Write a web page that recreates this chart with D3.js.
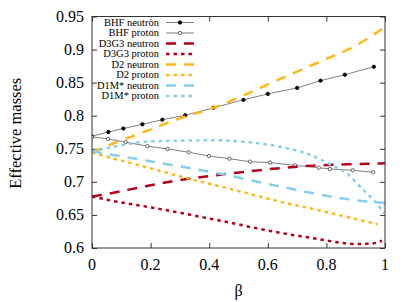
<!DOCTYPE html>
<html>
<head>
<meta charset="utf-8">
<script src="https://cdn.jsdelivr.net/npm/d3@7"></script>
<style>
  body { margin: 0; background: #fff; }
  svg { display: block; }
  text { font-family: "Liberation Serif", "DejaVu Serif", "Times New Roman", serif; }
</style>
</head>
<body>
<svg id="chart" width="415" height="302"></svg>
<script>
// values
var xTicks = [0, 0.2, 0.4, 0.6, 0.8, 1];
var yTicks = [0.6, 0.65, 0.7, 0.75, 0.8, 0.85, 0.9, 0.95];

var bhfNeutronBeta = [0, 0.056, 0.107, 0.172, 0.24, 0.318, 0.415, 0.517, 0.6, 0.70, 0.78, 0.863, 0.962];
var bhfNeutronMass = [0.769, 0.7754, 0.7807, 0.787, 0.794, 0.8006, 0.812, 0.824, 0.833, 0.842, 0.853, 0.862, 0.874];

var bhfProtonBeta = [0, 0.055, 0.115, 0.189, 0.258, 0.33, 0.399, 0.469, 0.539, 0.608, 0.693, 0.774, 0.812, 0.89, 0.96];
var bhfProtonMass = [0.768, 0.765, 0.760, 0.754, 0.7497, 0.7447, 0.739, 0.735, 0.7305, 0.729, 0.725, 0.7214, 0.7195, 0.7175, 0.7145];

var d3g3NeutronBeta = [0, 0.073, 0.187, 0.3, 0.46, 0.6, 0.754, 0.87, 1];
var d3g3NeutronMass = [0.6776, 0.6836, 0.6937, 0.7028, 0.7119, 0.719, 0.7245, 0.7265, 0.728];

var d3g3ProtonBeta = [0, 0.073, 0.187, 0.414, 0.642, 0.778, 0.824, 0.903, 0.96, 0.99];
var d3g3ProtonMass = [0.678, 0.671, 0.6625, 0.6434, 0.623, 0.613, 0.6095, 0.606, 0.607, 0.611];

var d2NeutronBeta = [0, 0.073, 0.187, 0.3, 0.415, 0.642, 0.79, 0.892, 0.99];
var d2NeutronMass = [0.745, 0.758, 0.777, 0.796, 0.812, 0.8555, 0.884, 0.904, 0.931];

var d2ProtonBeta = [0, 0.123, 0.33, 0.528, 0.642, 0.755, 0.869, 0.975];
var d2ProtonMass = [0.744, 0.7295, 0.705, 0.683, 0.670, 0.659, 0.647, 0.636];

var d1mNeutronBeta = [0, 0.2, 0.45, 0.642, 0.812, 0.97, 1];
var d1mNeutronMass = [0.746, 0.731, 0.711, 0.693, 0.678, 0.669, 0.668];

var d1mProtonBeta = [0, 0.073, 0.187, 0.3, 0.414, 0.528, 0.642, 0.755, 0.812, 0.869, 0.926, 0.971, 0.997];
var d1mProtonMass = [0.746, 0.753, 0.7607, 0.7623, 0.7628, 0.7603, 0.753, 0.739, 0.7265, 0.713, 0.6877, 0.6675, 0.652];

var zip = (a, b) => a.map((v, i) => [v, b[i]]);

var series = [
    { name: "BHF neutr\u00f2n", pts: zip(bhfNeutronBeta, bhfNeutronMass), color: "#808080", width: 1, dash: null, marker: "filled" },
    { name: "BHF proton", pts: zip(bhfProtonBeta, bhfProtonMass), color: "#808080", width: 1, dash: null, marker: "open" },
    { name: "D3G3 neutron", pts: zip(d3g3NeutronBeta, d3g3NeutronMass), color: "#b5001c", width: 2.5, dash: "10,8" },
    { name: "D3G3 proton", pts: zip(d3g3ProtonBeta, d3g3ProtonMass), color: "#b5001c", width: 2.5, dash: "3.5,4" },
    { name: "D2 neutron", pts: zip(d2NeutronBeta, d2NeutronMass), color: "#ffb81c", width: 2.5, dash: "10,8" },
    { name: "D2 proton", pts: zip(d2ProtonBeta, d2ProtonMass), color: "#ffb81c", width: 2.5, dash: "3.5,4" },
    { name: "D1M* neutron", pts: zip(d1mNeutronBeta, d1mNeutronMass), color: "#87ceeb", width: 2.5, dash: "10,8" },
    { name: "D1M* proton", pts: zip(d1mProtonBeta, d1mProtonMass), color: "#87ceeb", width: 2.5, dash: "3.5,4" }
];

var svg = d3.select("#chart"),
    margin = { top: 16.5, left: 92, bottom: 54, right: 30 },
    width = +svg.attr("width"),
    height = +svg.attr("height");

var x = d3.scaleLinear().domain([0, 1]).range([margin.left, width - margin.right]);
var y = d3.scaleLinear().domain([0.6, 0.95]).range([height - margin.bottom, margin.top]);

var tick = 5;
var axisColor = "#333";
var serif = '"Liberation Serif", "DejaVu Serif", serif';

// mirrored inward ticks
svg.append("g").attr("transform", `translate(${x(0)},0)`)
    .call(d3.axisRight(y).tickValues(yTicks).tickSize(tick).tickFormat(""))
    .call(g => g.select(".domain").remove());
svg.append("g").attr("transform", `translate(${x(1)},0)`)
    .call(d3.axisLeft(y).tickValues(yTicks).tickSize(tick).tickFormat(""))
    .call(g => g.select(".domain").remove());
svg.append("g").attr("transform", `translate(0,${y(0.6)})`)
    .call(d3.axisTop(x).tickValues(xTicks).tickSize(tick).tickFormat(""))
    .call(g => g.select(".domain").remove());
svg.append("g").attr("transform", `translate(0,${y(0.95)})`)
    .call(d3.axisBottom(x).tickValues(xTicks).tickSize(tick).tickFormat(""))
    .call(g => g.select(".domain").remove());
svg.selectAll(".tick line").attr("stroke", axisColor);

// tick labels
svg.append("g").selectAll("text")
    .data(yTicks).enter().append("text")
    .attr("x", x(0) - 8)
    .attr("y", d => y(d))
    .attr("dy", "0.34em")
    .attr("text-anchor", "end")
    .attr("font-family", serif)
    .attr("font-size", 16)
    .text(d => d3.format("")(d));

svg.append("g").selectAll("text")
    .data(xTicks).enter().append("text")
    .attr("x", d => x(d))
    .attr("y", y(0.6) + 22)
    .attr("text-anchor", "middle")
    .attr("font-family", serif)
    .attr("font-size", 16)
    .text(d => d3.format("")(d));

svg.append("text")
    .attr("x", (x(0) + x(1)) / 2)
    .attr("y", 296)
    .attr("text-anchor", "middle")
    .attr("font-family", serif)
    .attr("font-size", 16)
    .text("\u03b2");

svg.append("text")
    .attr("transform", `translate(21,${(y(0.6) + y(0.95)) / 2 + 1}) rotate(-90)`)
    .attr("text-anchor", "middle")
    .attr("font-family", serif)
    .attr("font-size", 16.5)
    .text("Effective masses");

// curves
svg.append("clipPath").attr("id", "clip").append("rect")
    .attr("x", x(0)).attr("y", y(0.95)).attr("width", x(1) - x(0)).attr("height", y(0.6) - y(0.95));

var plot = svg.append("g").attr("clip-path", "url(#clip)");

function marker(sel, kind) {
    sel.attr("r", 1.7)
        .attr("fill", kind == "filled" ? "#000" : "#fff")
        .attr("stroke", kind == "filled" ? "#000" : "#444")
        .attr("stroke-width", 0.8);
}

series.forEach(function (s) {
    var line = d3.line()
        .x(d => x(d[0]))
        .y(d => y(d[1]))
        .curve(s.marker ? d3.curveLinear : d3.curveMonotoneX);
    plot.append("path")
        .datum(s.pts)
        .attr("fill", "none")
        .attr("stroke", s.color)
        .attr("stroke-width", s.width)
        .attr("stroke-dasharray", s.dash)
        .attr("d", line);
    if (s.marker) {
        plot.append("g").selectAll("circle")
            .data(s.pts).enter().append("circle")
            .attr("cx", d => x(d[0]))
            .attr("cy", d => y(d[1]))
            .call(marker, s.marker);
    }
});

// legend (opaque key)
var key = svg.append("g");
key.append("rect")
    .attr("x", x(0) + 5).attr("y", y(0.95) + 1)
    .attr("width", 110).attr("height", 86)
    .attr("fill", "#fff");

var rowY = i => 22.5 + i * 10.5;
series.forEach(function (s, i) {
    key.append("text")
        .attr("x", 159)
        .attr("y", rowY(i))
        .attr("dy", "0.33em")
        .attr("text-anchor", "end")
        .attr("font-family", serif)
        .attr("font-size", 10.5)
        .text(s.name);
    key.append("line")
        .attr("x1", 166).attr("x2", 194)
        .attr("y1", rowY(i)).attr("y2", rowY(i))
        .attr("stroke", s.color)
        .attr("stroke-width", s.width)
        .attr("stroke-dasharray", s.dash);
    if (s.marker) {
        key.append("circle")
            .attr("cx", 180).attr("cy", rowY(i))
            .call(marker, s.marker);
    }
});

// border
svg.append("rect")
    .attr("x", x(0)).attr("y", y(0.95))
    .attr("width", x(1) - x(0)).attr("height", y(0.6) - y(0.95))
    .attr("fill", "none")
    .attr("stroke", axisColor)
    .attr("stroke-width", 1);
</script>
</body>
</html>
